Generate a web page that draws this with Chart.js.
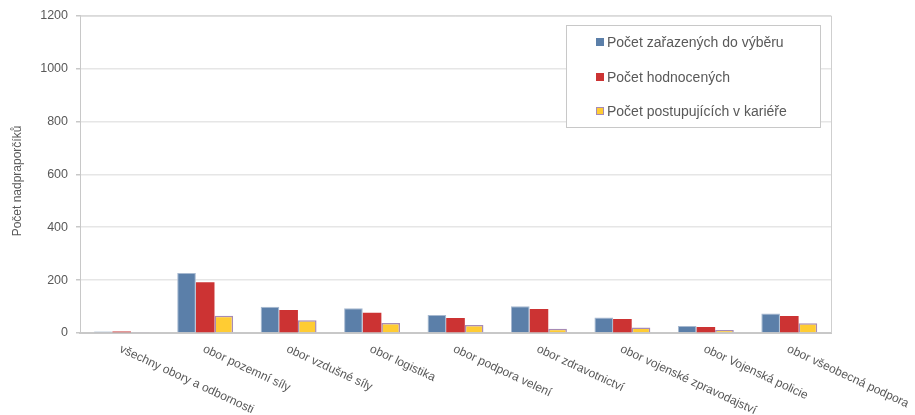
<!DOCTYPE html>
<html>
<head>
<meta charset="utf-8">
<script src="https://cdn.jsdelivr.net/npm/chart.js@4"></script>
<style>
  html, body { margin: 0; padding: 0; background: #fff; }
  #wrap { width: 915px; height: 415px; }
</style>
</head>
<body>
<div id="wrap"><canvas id="chart" width="915" height="415"></canvas></div>
<script>
  const categories = [
    'všechny obory a odbornosti',
    'obor pozemní síly',
    'obor vzdušné síly',
    'obor logistika',
    'obor podpora velení',
    'obor zdravotnictví',
    'obor vojenské zpravodajství',
    'obor Vojenská policie',
    'obor všeobecná podpora'
  ];
  const seriesNames = [
    'Počet zařazených do výběru',
    'Počet hodnocených',
    'Počet postupujících v kariéře'
  ];
  const zarazeni = [6, 227, 99, 94, 68, 101, 59, 26, 74];
  const hodnoceni = [6, 192, 87, 77, 57, 91, 53, 23, 64];
  const postupujici = [2, 65, 48, 38, 30, 16, 21, 11, 37];
  const yTicks = [0, 200, 400, 600, 800, 1000, 1200];
  const yTitle = 'Počet nadpraporčíků';

  const FONT = '"Liberation Sans", Arial, sans-serif';
  const TEXT = '#595959';

  // legend drawn in a box inside the plot, x labels slanted down-right
  const extras = {
    id: 'extras',
    beforeDatasetsDraw(chart) {
      const { ctx, chartArea: a } = chart;
      ctx.save();
      ctx.strokeStyle = '#cfcfcf';
      ctx.lineWidth = 1;
      ctx.beginPath();
      ctx.moveTo(a.left, a.top + 0.5);
      ctx.lineTo(a.right + 0.5, a.top + 0.5);
      ctx.lineTo(a.right + 0.5, a.bottom);
      ctx.stroke();
      ctx.restore();
    },
    afterDraw(chart) {
      const { ctx, chartArea: a } = chart;
      const xs = chart.scales.x;
      ctx.save();
      ctx.font = '12px ' + FONT;
      ctx.fillStyle = TEXT;
      ctx.textAlign = 'left';
      ctx.textBaseline = 'top';
      categories.forEach((c, i) => {
        const x = xs.getPixelForValue(i);
        ctx.save();
        ctx.translate(x + 1, a.bottom + 10);
        ctx.rotate(25 * Math.PI / 180);
        ctx.fillText(c, 0, 0);
        ctx.restore();
      });

      // y title
      ctx.save();
      ctx.translate(18, 181);
      ctx.rotate(-Math.PI / 2);
      ctx.textAlign = 'center';
      ctx.textBaseline = 'middle';
      ctx.fillText(yTitle, 0, 0);
      ctx.restore();

      // legend
      const bx = 566.5, by = 25.5, bw = 254, bh = 102;
      ctx.fillStyle = '#fff';
      ctx.fillRect(bx, by, bw, bh);
      ctx.strokeStyle = '#c8c8c8';
      ctx.lineWidth = 1;
      ctx.strokeRect(bx, by, bw, bh);
      ctx.font = '14px ' + FONT;
      ctx.textAlign = 'left';
      ctx.textBaseline = 'middle';
      const rows = [42, 77, 111];
      chart.data.datasets.forEach((ds, i) => {
        const y = rows[i];
        ctx.fillStyle = ds.backgroundColor;
        ctx.fillRect(596, y - 4, 8, 8);
        if (i === 2) {
          ctx.strokeStyle = ds.borderColor;
          ctx.strokeRect(596.5, y - 3.5, 7, 7);
        }
        ctx.fillStyle = TEXT;
        ctx.fillText(ds.label, 607, y + 1);
      });
      ctx.restore();
    }
  };

  new Chart(document.getElementById('chart'), {
    type: 'bar',
    data: {
      labels: categories,
      datasets: [
        {
          label: seriesNames[0],
          data: zarazeni,
          backgroundColor: '#5b7fa9',
          borderColor: '#a7b9d0',
          borderWidth: 1
        },
        {
          label: seriesNames[1],
          data: hodnoceni,
          backgroundColor: '#cc3333',
          borderColor: '#cc3333',
          borderWidth: 0
        },
        {
          label: seriesNames[2],
          data: postupujici,
          backgroundColor: '#ffcc33',
          borderColor: '#a68bb5',
          borderWidth: 1.5
        }
      ]
    },
    options: {
      responsive: false,
      animation: false,
      layout: { padding: { top: 8, right: 84, left: 0, bottom: 0 } },
      plugins: {
        legend: { display: false },
        tooltip: { enabled: false }
      },
      datasets: {
        bar: { categoryPercentage: 0.67, barPercentage: 1 }
      },
      scales: {
        x: {
          grid: { display: false, drawTicks: false },
          border: { color: '#c8c8c8', width: 2 },
          ticks: { display: false },
          afterFit(scale) { scale.height = 82; }
        },
        y: {
          min: 0,
          max: 1200,
          afterBuildTicks(scale) { scale.ticks = yTicks.map(v => ({ value: v })); },
          grid: { color: '#e6e6e6', lineWidth: 1.5, tickLength: 4, tickColor: '#c8c8c8' },
          border: { color: '#c8c8c8', width: 1 },
          ticks: {
            color: TEXT,
            font: { family: FONT, size: 12.5 },
            padding: 8,
            callback: v => String(v)
          },
          title: { display: false },
          afterFit(scale) { scale.width = 80; }
        }
      }
    },
    plugins: [extras]
  });
</script>
</body>
</html>
